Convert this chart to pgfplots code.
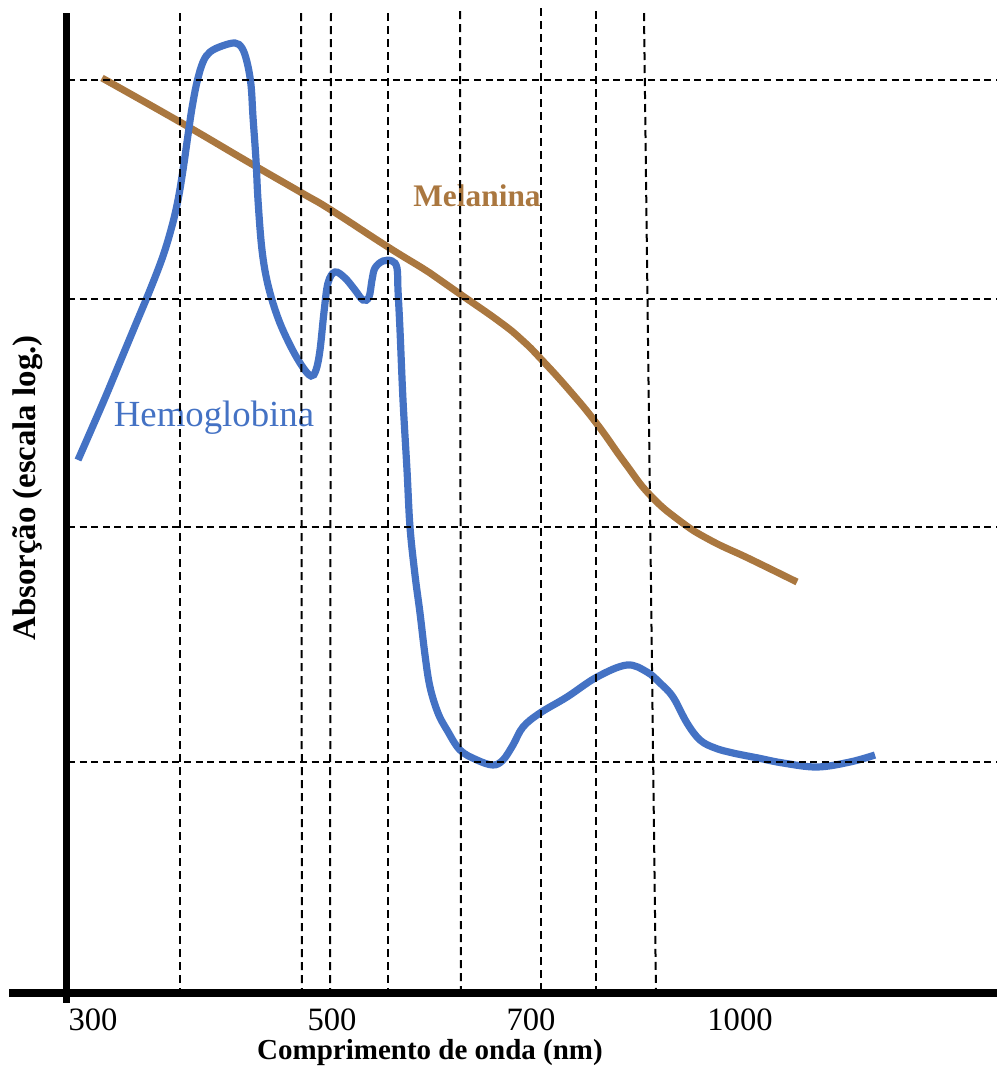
\documentclass[border=0pt]{standalone}
\usepackage{pgfplots}
\pgfplotsset{compat=1.18}
\usepackage{fontspec}
\setmainfont{Liberation Serif}
\definecolor{hemo}{RGB}{68,114,196}
\definecolor{mela}{RGB}{170,119,63}
\begin{document}
\begin{tikzpicture}
\begin{axis}[
  scale only axis, width=498.5pt, height=534pt,
  xmin=0, xmax=997, ymin=0, ymax=1068, y dir=reverse,
  hide axis, clip=false,
]
\path (axis cs:0,0) rectangle (axis cs:997,1068);
% labels
\node[inner sep=0pt, text=hemo, font=\fontsize{18.4}{20}\selectfont] at (axis cs:214,418) {Hemoglobina};
\node[inner sep=0pt, text=mela, font=\fontsize{15.7}{18}\selectfont\bfseries] at (axis cs:477,196) {Melanina};
% curves
\addplot[color=mela, line width=3.5pt, smooth, tension=0.8] coordinates {
(102,78)(180,122)(250,163)(302,193)(331,210)(388,247)(430,273)(460,294)(500,322)(522,340)(541,359)(570,391)(597,424)(625,463)(650,495)(680,521)(710,540)(750,559)(797,582)};
\addplot[color=hemo, line width=3.6pt, smooth, tension=0.6] coordinates {
(78,460)(92,428)(105,398)(120,362)(135,326)(150,290)(163,256)(172,226)(178,200)(183,170)(188,135)(192,108)(197,82)(203,62)(210,52)(222,46)(235,43)(242,48)(247,62)(251,85)(253,117)(256,160)(258,200)(262,250)(268,285)(278,318)(290,345)(302,366)(311,376)(316,370)(320,350)(324,312)(328,283)(335,272)(345,278)(355,290)(363,300)(369,297)(372,280)(375,268)(383,261)(392,261)(397,268)(398,290)(400,330)(403,400)(407,470)(410,527)(415,575)(420,613)(425,655)(430,687)(438,713)(447,730)(460,750)(477,760)(493,765)(503,760)(513,745)(523,727)(540,713)(567,697)(597,677)(627,665)(647,672)(660,683)(673,697)(687,723)(700,740)(715,748)(733,753)(758,758)(783,763)(817,767)(850,762)(875,755)};
% grid
\addplot[black, line width=1pt, dash pattern=on 4pt off 2.5pt] coordinates {(180,13)(180,990)};
\addplot[black, line width=1pt, dash pattern=on 4pt off 2.5pt] coordinates {(301,13)(302,1000)};
\addplot[black, line width=1pt, dash pattern=on 4pt off 2.5pt] coordinates {(331,13)(330,995)};
\addplot[black, line width=1pt, dash pattern=on 4pt off 2.5pt] coordinates {(388,13)(388,1000)};
\addplot[black, line width=1pt, dash pattern=on 4pt off 2.5pt] coordinates {(460,11)(461,995)};
\addplot[black, line width=1pt, dash pattern=on 4pt off 2.5pt] coordinates {(541,8)(541,995)};
\addplot[black, line width=1pt, dash pattern=on 4pt off 2.5pt] coordinates {(596,11)(596,995)};
\addplot[black, line width=1pt, dash pattern=on 4pt off 2.5pt] coordinates {(644,13)(656,995)};
\addplot[black, line width=1pt, dash pattern=on 3.5pt off 2.3pt] coordinates {(68,80)(997,80)};
\addplot[black, line width=1pt, dash pattern=on 3.5pt off 2.3pt] coordinates {(68,299)(997,299)};
\addplot[black, line width=1pt, dash pattern=on 3.5pt off 2.3pt] coordinates {(68,527)(997,527)};
\addplot[black, line width=1pt, dash pattern=on 3.5pt off 2.3pt] coordinates {(68,762)(997,762)};
% axes
\addplot[black, line width=3.5pt] coordinates {(66,13)(66,1003)};
\addplot[black, line width=4pt] coordinates {(9,993)(997,993)};
% tick labels
\node[inner sep=0pt, font=\fontsize{16.3}{18}\selectfont] at (axis cs:93,1020) {300};
\node[inner sep=0pt, font=\fontsize{16.3}{18}\selectfont] at (axis cs:332,1020) {500};
\node[inner sep=0pt, font=\fontsize{16.3}{18}\selectfont] at (axis cs:531,1020) {700};
\node[inner sep=0pt, font=\fontsize{16.3}{18}\selectfont] at (axis cs:740,1020) {1000};
% axis titles
\node[inner sep=0pt, font=\fontsize{14.5}{16}\selectfont\bfseries] at (axis cs:430,1053) {Comprimento de onda (nm)};
\node[inner sep=0pt, font=\fontsize{16.4}{19}\selectfont\bfseries, rotate=90] at (axis cs:28,488) {Absorção (escala log.)};
\end{axis}
\end{tikzpicture}
\end{document}
